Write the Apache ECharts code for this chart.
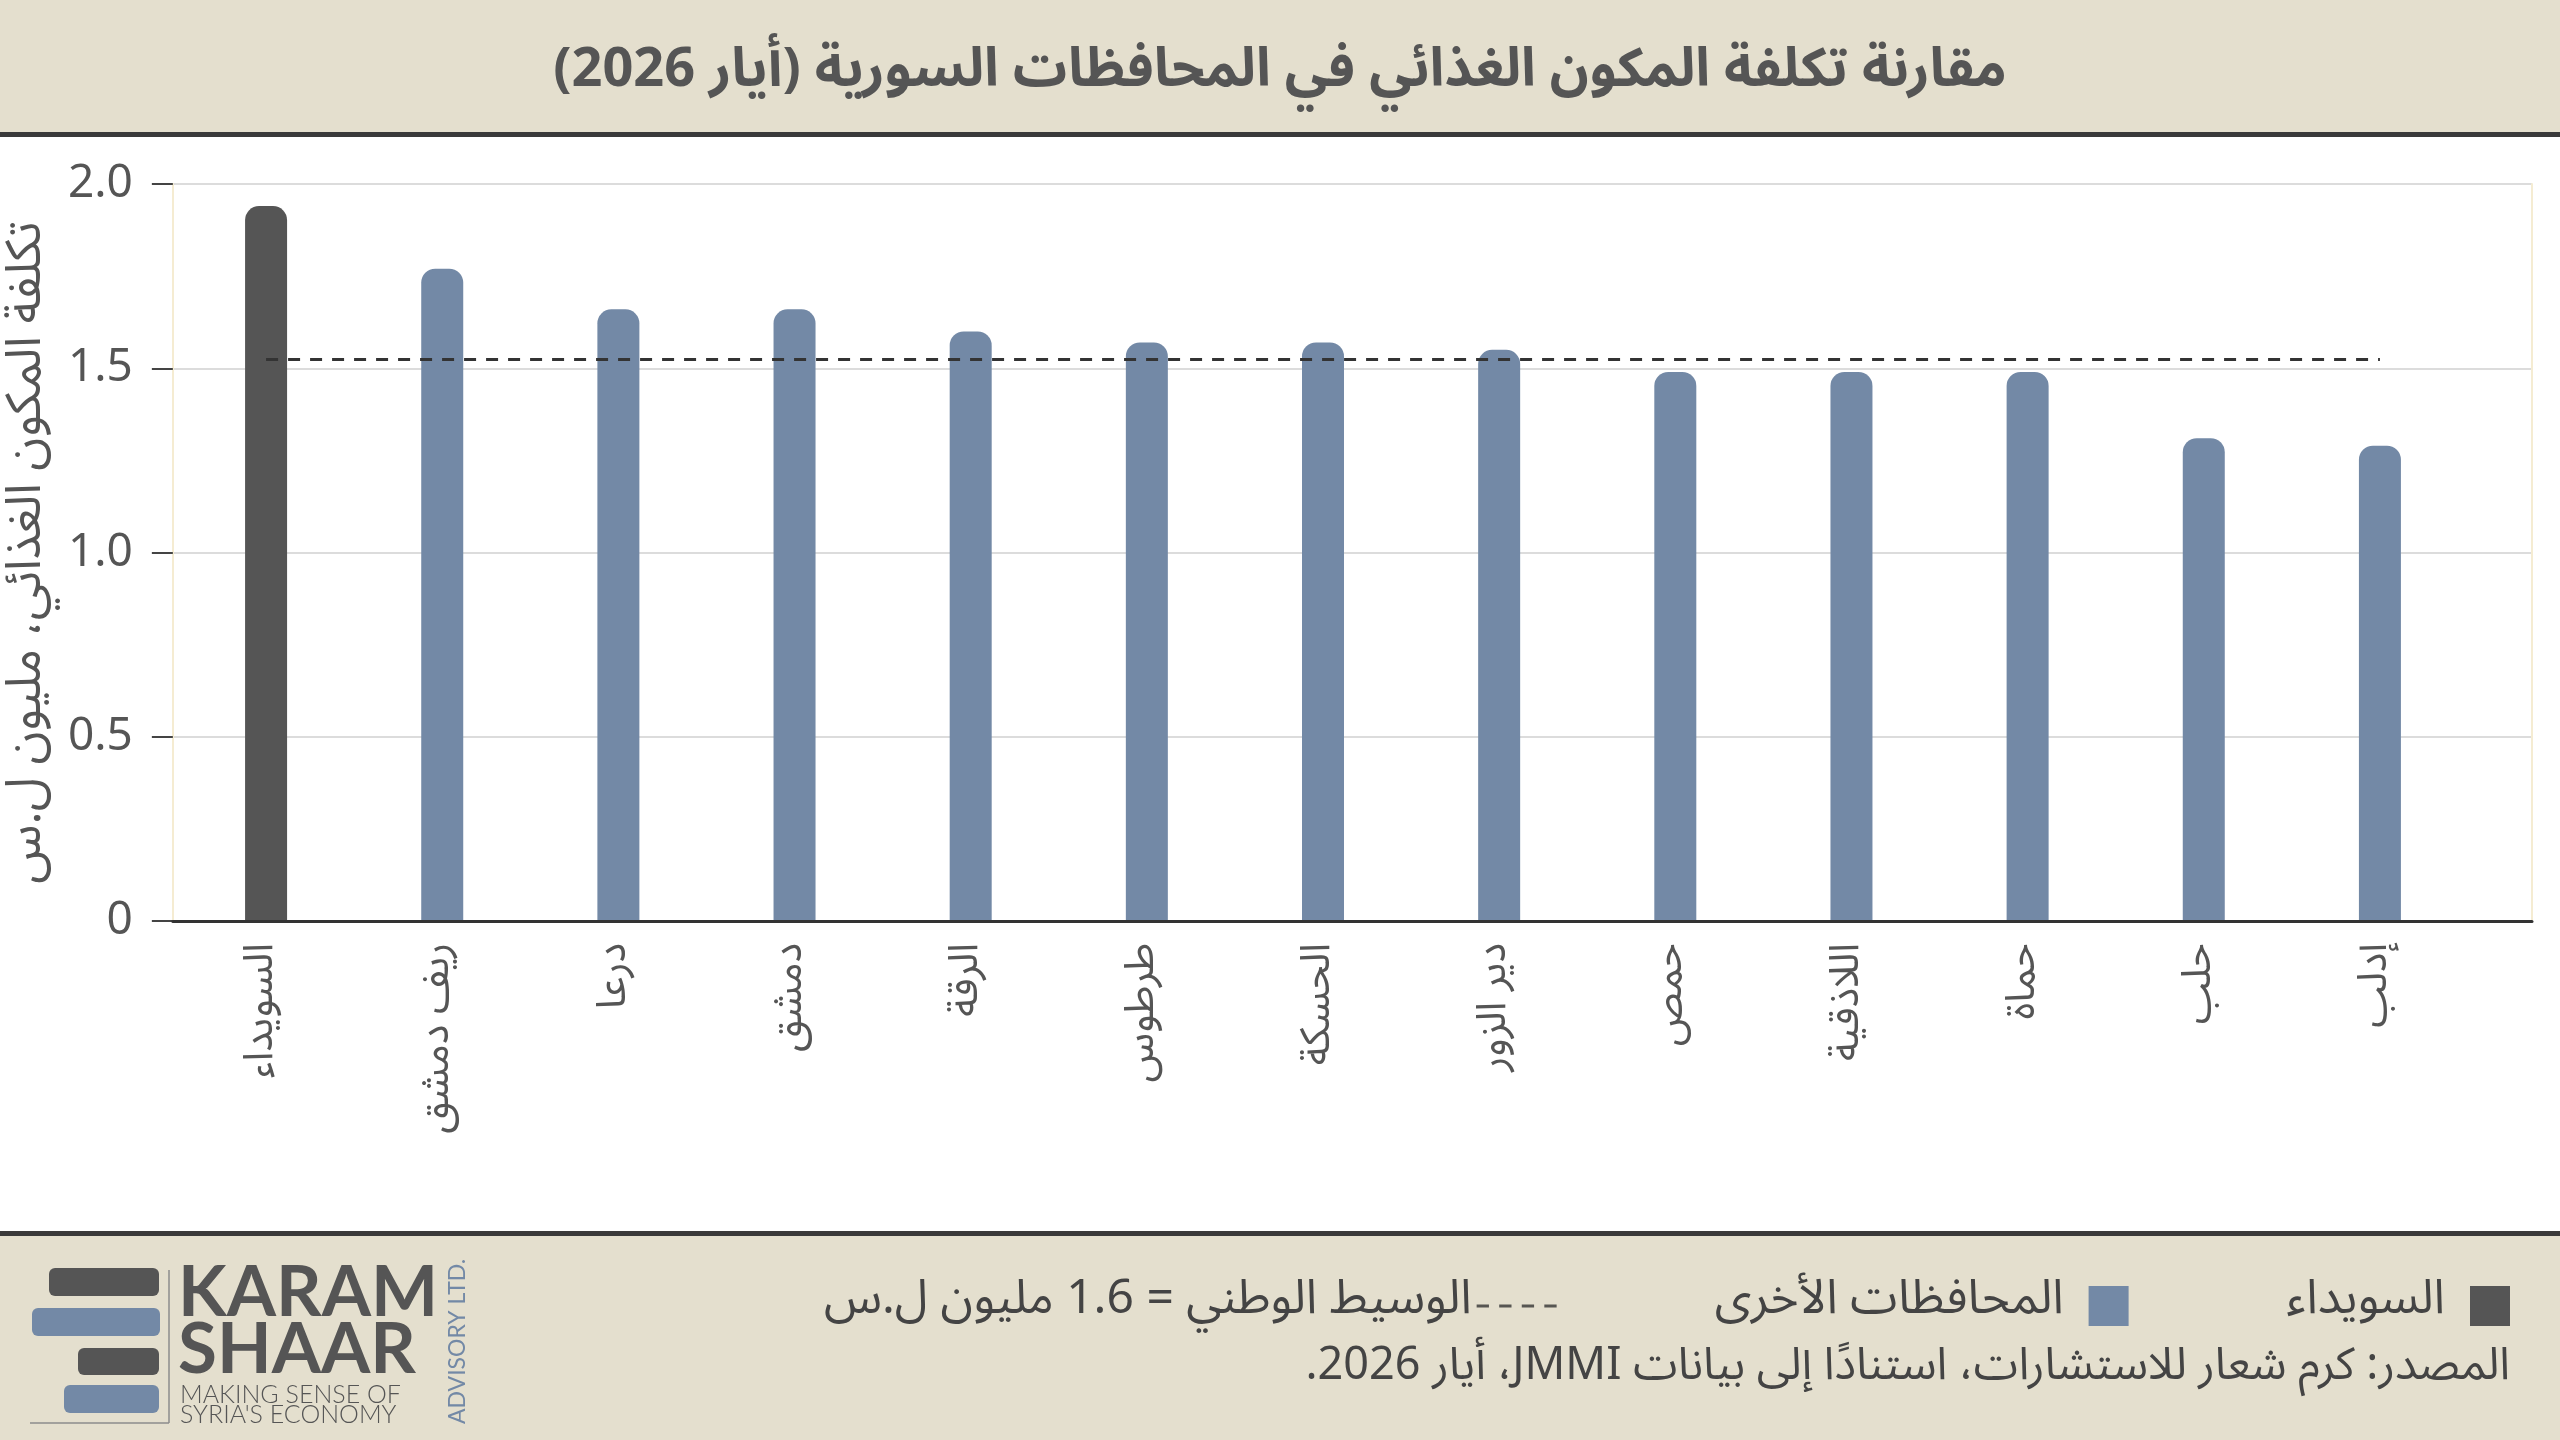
<!DOCTYPE html>
<html>
<head>
<meta charset="utf-8">
<script src="https://cdn.jsdelivr.net/npm/echarts@6/dist/echarts.min.js"></script>
<style>
  html, body { margin: 0; padding: 0; background: #ffffff; }
  #main { width: 2560px; height: 1440px; }
</style>
</head>
<body>
<div id="main" dir="rtl"></div>
<script>
// المحافظات مرتبة كما في الرسم
var provinces = ['السويداء', 'ريف دمشق', 'درعا', 'دمشق', 'الرقة', 'طرطوس', 'الحسكة',
                 'دير الزور', 'حمص', 'اللاذقية', 'حماة', 'حلب', 'إدلب'];
// تكلفة المكون الغذائي، مليون ل.س
var foodCost = [1.94, 1.77, 1.66, 1.66, 1.60, 1.57, 1.57, 1.55, 1.49, 1.49, 1.49, 1.31, 1.29];
var nationalMedian = 1.525;
var yTicks = [0, 0.5, 1.0, 1.5, 2.0];

var seriesNames = ['السويداء', 'المحافظات الأخرى', 'الوسيط الوطني = 1.6 مليون ل.س'];

var arFont = "'Noto Sans Arabic', 'DejaVu Sans', 'Noto Sans', sans-serif";
var numFont = "'Noto Sans', 'Open Sans', sans-serif";
var beige = '#e4dfce';
var dark = '#555555';
var blue = '#7389a6';

// السويداء مفصولة عن بقية المحافظات
var suwaydaData = foodCost.map(function (v, i) { return provinces[i] === 'السويداء' ? v : '-'; });
var othersData = foodCost.map(function (v, i) { return provinces[i] === 'السويداء' ? '-' : v; });

var myChart = echarts.init(document.getElementById('main'));

var squareIcon = 'path://M0,0h10v10h-10z';
var dashIcon = 'path://M0,0h12v3h-12z M22,0h12v3h-12z M44,0h12v3h-12z M66,0h12v3h-12z';

var option = {
    backgroundColor: '#ffffff',
    animation: false,
    title: {
        text: 'مقارنة تكلفة المكون الغذائي في المحافظات السورية (أيار 2026)',
        left: 'center',
        top: 46,
        textStyle: { fontFamily: arFont, fontSize: 54, fontWeight: 'bold', color: dark }
    },
    legend: {
        right: 45,
        top: 1277,
        orient: 'horizontal',
        align: 'right',
        itemWidth: 80,
        itemHeight: 40,
        itemGap: 158,
        textStyle: { fontFamily: arFont, fontSize: 48, color: '#444444' },
        data: [
            { name: seriesNames[2], icon: dashIcon },
            { name: seriesNames[1], icon: squareIcon },
            { name: seriesNames[0], icon: squareIcon }
        ]
    },
    grid: [
        // إطار المحاور
        { left: 154, right: 28, top: 184, bottom: 519 },
        // الأعمدة
        { left: 178, right: 92, top: 184, bottom: 519 }
    ],
    xAxis: [
        {
            gridIndex: 0, type: 'value', min: 0, max: 1, z: 5,
            axisLine: { show: true, lineStyle: { color: '#333333', width: 3 } },
            axisTick: { show: false }, axisLabel: { show: false }, splitLine: { show: false }
        },
        {
            gridIndex: 1, type: 'category', data: provinces,
            axisLine: { show: false }, axisTick: { show: false },
            axisLabel: {
                rotate: 90, margin: 22, interval: 0,
                fontFamily: arFont, fontSize: 41, color: dark
            }
        }
    ],
    yAxis: [
        {
            gridIndex: 0, type: 'value', min: 0, max: 2, interval: 0.5,
            name: 'تكلفة المكون الغذائي، مليون ل.س',
            nameLocation: 'middle', nameGap: 88,
            nameTextStyle: { fontFamily: arFont, fontSize: 49, color: dark },
            axisLine: { show: true, lineStyle: { color: '#f5ecd2', width: 2 } },
            axisTick: { show: true, length: 21, lineStyle: { color: '#444444', width: 2 } },
            axisLabel: {
                margin: 40, fontFamily: numFont, fontSize: 46, color: dark,
                formatter: function (v) { return v === 0 ? '0' : v.toFixed(1); }
            },
            splitLine: { lineStyle: { color: '#dcdcdc', width: 2 } }
        },
        {
            gridIndex: 0, type: 'value', min: 0, max: 2, position: 'right',
            axisLine: { show: true, lineStyle: { color: '#f5ecd2', width: 2 } },
            axisTick: { show: false }, axisLabel: { show: false }, splitLine: { show: false }
        },
        {
            gridIndex: 1, type: 'value', min: 0, max: 2, show: false
        }
    ],
    series: [
        {
            name: seriesNames[0], type: 'bar', xAxisIndex: 1, yAxisIndex: 2,
            data: suwaydaData, barWidth: 42, barGap: '-100%',
            itemStyle: { color: dark, borderRadius: [14, 14, 0, 0] }
        },
        {
            name: seriesNames[1], type: 'bar', xAxisIndex: 1, yAxisIndex: 2,
            data: othersData, barWidth: 42, barGap: '-100%',
            itemStyle: { color: blue, borderRadius: [14, 14, 0, 0] },
            markLine: {
                silent: true, symbol: 'none', label: { show: false },
                lineStyle: { color: '#333333', width: 3, type: [12, 10] },
                data: [[
                    { coord: [provinces[0], nationalMedian] },
                    { coord: [provinces[provinces.length - 1], nationalMedian] }
                ]]
            }
        },
        {
            // يظهر في وسيلة الإيضاح فقط، والخط نفسه مرسوم بـ markLine
            name: seriesNames[2], type: 'scatter', xAxisIndex: 1, yAxisIndex: 2,
            data: [], itemStyle: { color: '#333333' }
        }
    ],
    graphic: [
        // الرأس
        { type: 'rect', z: -10, shape: { x: 0, y: 0, width: 2560, height: 132 }, style: { fill: beige } },
        { type: 'rect', z: -10, shape: { x: 0, y: 132, width: 2560, height: 5 }, style: { fill: '#3a3a3a' } },
        // التذييل
        { type: 'rect', z: -10, shape: { x: 0, y: 1231, width: 2560, height: 5 }, style: { fill: '#3a3a3a' } },
        { type: 'rect', z: -10, shape: { x: 0, y: 1236, width: 2560, height: 204 }, style: { fill: beige } },
        {
            type: 'text', x: 2510, y: 1372,
            style: {
                text: 'المصدر: كرم شعار للاستشارات، استنادًا إلى بيانات JMMI، أيار 2026.',
                font: '45px ' + arFont, fill: '#444444',
                textAlign: 'right', textVerticalAlign: 'middle', align: 'right', verticalAlign: 'middle'
            }
        },
        // الشعار
        { type: 'rect', shape: { x: 49, y: 1268, width: 110, height: 28, r: 6 }, style: { fill: dark } },
        { type: 'rect', shape: { x: 32, y: 1308, width: 128, height: 28, r: 6 }, style: { fill: blue } },
        { type: 'rect', shape: { x: 78, y: 1348, width: 81, height: 27, r: 6 }, style: { fill: dark } },
        { type: 'rect', shape: { x: 64, y: 1385, width: 95, height: 28, r: 6 }, style: { fill: blue } },
        { type: 'line', shape: { x1: 169, y1: 1270, x2: 169, y2: 1423 }, style: { stroke: '#8c8c8c', lineWidth: 1.5 } },
        { type: 'line', shape: { x1: 30, y1: 1423, x2: 169, y2: 1423 }, style: { stroke: '#8c8c8c', lineWidth: 1.5 } },
        {
            type: 'text', x: 178, y: 1293,
            style: { text: 'KARAM', font: 'bold 71px Lato, sans-serif', fill: dark,
                     textVerticalAlign: 'middle', verticalAlign: 'middle' }
        },
        {
            type: 'text', x: 178, y: 1350,
            style: { text: 'SHAAR', font: 'bold 71px Lato, sans-serif', fill: dark,
                     textVerticalAlign: 'middle', verticalAlign: 'middle' }
        },
        {
            type: 'text', x: 180, y: 1395,
            style: { text: 'MAKING SENSE OF', font: '300 25px Lato, sans-serif', fill: dark,
                     textVerticalAlign: 'middle', verticalAlign: 'middle' }
        },
        {
            type: 'text', x: 180, y: 1415,
            style: { text: "SYRIA'S ECONOMY", font: '300 25px Lato, sans-serif', fill: dark,
                     textVerticalAlign: 'middle', verticalAlign: 'middle' }
        },
        {
            type: 'text', x: 458, y: 1424, rotation: Math.PI / 2,
            style: { text: '\u2066ADVISORY LTD.\u2069', font: '23px Lato, sans-serif', fill: blue,
                     textVerticalAlign: 'middle', verticalAlign: 'middle' }
        }
    ]
};

myChart.setOption(option);
</script>
</body>
</html>
